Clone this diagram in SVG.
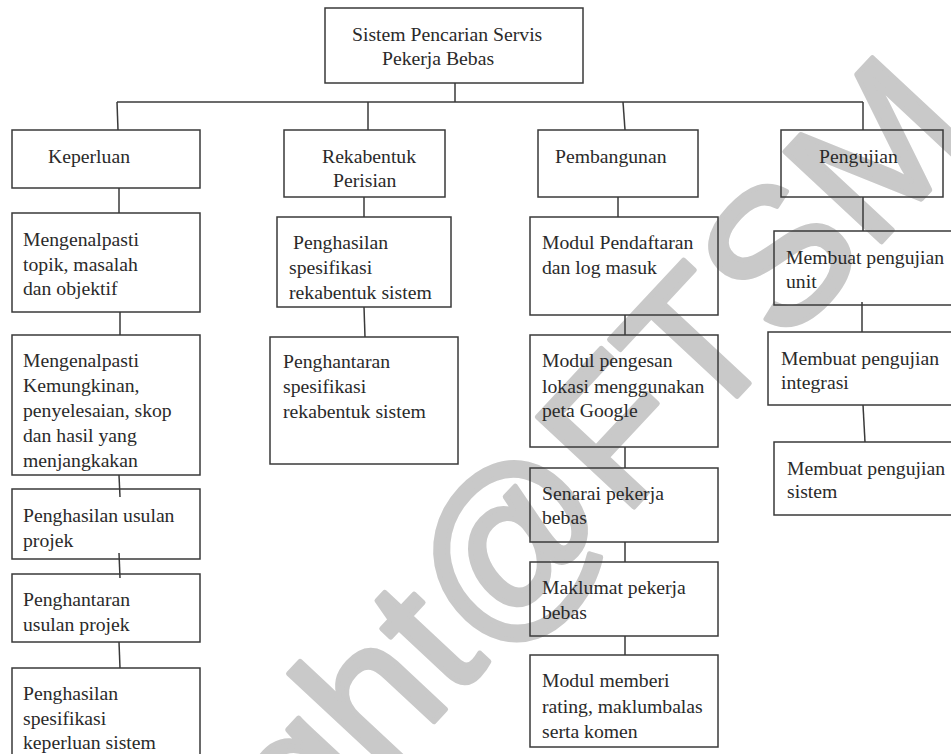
<svg xmlns="http://www.w3.org/2000/svg" width="951" height="754" viewBox="0 0 951 754">
<style>
.box{fill:none;stroke:#3a3a3a;stroke-width:1.5}
.ln{fill:none;stroke:#3a3a3a;stroke-width:1.5}
text{font-family:"Liberation Serif","Times New Roman",serif;font-size:19.7px;fill:#2a2a2a}
.wm{font-family:"Liberation Sans",Arial,sans-serif;font-size:192px;fill:#c9c9c9;stroke:#c9c9c9;stroke-width:5;stroke-linejoin:round}
</style>
<rect width="951" height="754" fill="#ffffff"/>
<text class="wm" transform="translate(-70,1262) rotate(-47)" x="0" y="0">Copyright@FTSM</text>

<g id="connectors">
<line class="ln" x1="455" y1="83" x2="455" y2="102"/>
<line class="ln" x1="117" y1="102" x2="863" y2="102"/>
<line class="ln" x1="117" y1="102" x2="118" y2="130"/>
<line class="ln" x1="368" y1="102" x2="368" y2="130"/>
<line class="ln" x1="623" y1="102" x2="625" y2="130"/>
<line class="ln" x1="863" y1="102" x2="863" y2="130"/>
<line class="ln" x1="119" y1="188" x2="119" y2="213"/>
<line class="ln" x1="120" y1="312" x2="120" y2="335"/>
<line class="ln" x1="119" y1="475" x2="120" y2="497"/>
<line class="ln" x1="119" y1="553" x2="120" y2="578"/>
<line class="ln" x1="119" y1="642" x2="120" y2="668"/>
<line class="ln" x1="364" y1="197" x2="364" y2="217"/>
<line class="ln" x1="364" y1="307" x2="365" y2="337"/>
<line class="ln" x1="618" y1="197" x2="618" y2="217"/>
<line class="ln" x1="625" y1="315" x2="625" y2="335"/>
<line class="ln" x1="625" y1="447" x2="625" y2="468"/>
<line class="ln" x1="625" y1="542" x2="625" y2="562"/>
<line class="ln" x1="625" y1="636" x2="625" y2="655"/>
<line class="ln" x1="863" y1="197" x2="863" y2="231"/>
<line class="ln" x1="862" y1="302" x2="862" y2="332"/>
<line class="ln" x1="863" y1="405" x2="865" y2="442"/>
</g>

<g id="root">
<rect class="box" x="325" y="8" width="258" height="75"/>
<text x="352" y="41">Sistem Pencarian Servis</text>
<text x="382" y="65">Pekerja Bebas</text>
</g>

<g id="keperluan">
<rect class="box" x="12" y="130" width="188" height="58"/>
<text x="48" y="163">Keperluan</text>
</g>
<g id="rekabentuk">
<rect class="box" x="284" y="130" width="161" height="67"/>
<text x="322" y="163">Rekabentuk</text>
<text x="333" y="187">Perisian</text>
</g>
<g id="pembangunan">
<rect class="box" x="538" y="130" width="160" height="67"/>
<text x="555" y="163">Pembangunan</text>
</g>
<g id="pengujian">
<rect class="box" x="781" y="130" width="162" height="67"/>
<text x="819" y="163">Pengujian</text>
</g>

<g id="k1">
<rect class="box" x="12" y="213" width="188" height="99"/>
<text x="23" y="246">Mengenalpasti</text>
<text x="23" y="271">topik, masalah</text>
<text x="23" y="295">dan objektif</text>
</g>
<g id="k2">
<rect class="box" x="12" y="335" width="188" height="140"/>
<text x="23" y="367">Mengenalpasti</text>
<text x="23" y="392">Kemungkinan,</text>
<text x="23" y="417">penyelesaian, skop</text>
<text x="23" y="442">dan hasil yang</text>
<text x="23" y="467">menjangkakan</text>
</g>
<g id="k3">
<rect class="box" x="12" y="489" width="188" height="70"/>
<text x="23" y="522">Penghasilan usulan</text>
<text x="23" y="547">projek</text>
</g>
<g id="k4">
<rect class="box" x="12" y="574" width="188" height="68"/>
<text x="23" y="606">Penghantaran</text>
<text x="23" y="631">usulan projek</text>
</g>
<g id="k5">
<rect class="box" x="12" y="668" width="188" height="100"/>
<text x="23" y="700">Penghasilan</text>
<text x="23" y="725">spesifikasi</text>
<text x="23" y="749">keperluan sistem</text>
</g>

<g id="r1">
<rect class="box" x="277" y="217" width="174" height="90"/>
<text x="293" y="249">Penghasilan</text>
<text x="289" y="274">spesifikasi</text>
<text x="289" y="299">rekabentuk sistem</text>
</g>
<g id="r2">
<rect class="box" x="270" y="337" width="188" height="127"/>
<text x="283" y="368">Penghantaran</text>
<text x="283" y="393">spesifikasi</text>
<text x="283" y="418">rekabentuk sistem</text>
</g>

<g id="p1">
<rect class="box" x="530" y="217" width="188" height="98"/>
<text x="542" y="249">Modul Pendaftaran</text>
<text x="542" y="274">dan log masuk</text>
</g>
<g id="p2">
<rect class="box" x="530" y="335" width="188" height="112"/>
<text x="542" y="367">Modul pengesan</text>
<text x="542" y="393">lokasi menggunakan</text>
<text x="542" y="417">peta Google</text>
</g>
<g id="p3">
<rect class="box" x="530" y="468" width="188" height="74"/>
<text x="542" y="500">Senarai pekerja</text>
<text x="542" y="524">bebas</text>
</g>
<g id="p4">
<rect class="box" x="530" y="562" width="188" height="74"/>
<text x="542" y="594">Maklumat pekerja</text>
<text x="542" y="619">bebas</text>
</g>
<g id="p5">
<rect class="box" x="530" y="655" width="188" height="92"/>
<text x="542" y="687">Modul memberi</text>
<text x="542" y="713">rating, maklumbalas</text>
<text x="542" y="738">serta komen</text>
</g>

<g id="g1">
<rect class="box" x="774" y="231" width="200" height="74"/>
<text x="786" y="264">Membuat pengujian</text>
<text x="786" y="288">unit</text>
</g>
<g id="g2">
<rect class="box" x="768" y="332" width="200" height="73"/>
<text x="781" y="365">Membuat pengujian</text>
<text x="781" y="389">integrasi</text>
</g>
<g id="g3">
<rect class="box" x="774" y="442" width="200" height="73"/>
<text x="787" y="475">Membuat pengujian</text>
<text x="787" y="498">sistem</text>
</g>
</svg>
